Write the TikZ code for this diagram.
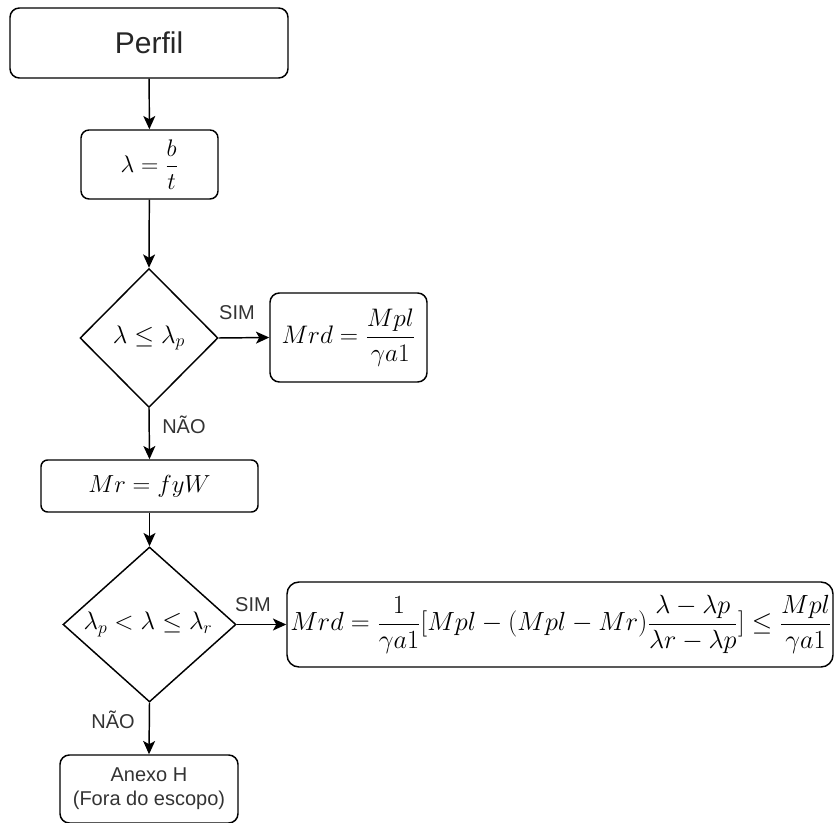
\documentclass[tikz,border=0pt]{standalone}
\usepackage{fix-cm}
\usepackage[no-math]{fontspec}
\setmainfont{Liberation Sans}
\usetikzlibrary{shapes.geometric,arrows.meta}
\newcommand\mfs[1]{\fontsize{#1}{#1}\selectfont}
\begin{document}
\begin{tikzpicture}[x=0.75pt,y=-0.75pt,
  box/.style={draw, line width=1.1pt, rounded corners=7pt, inner sep=0pt, align=center},
  dia/.style={draw, line width=1.1pt, diamond, inner sep=0pt},
  conn/.style={draw, line width=1.1pt, -{Stealth[length=10pt,width=9pt,inset=2.5pt]}},
  lbl/.style={font=\fontsize{15pt}{18pt}\selectfont, text=black!80, inner sep=0pt}]
\useasboundingbox (0,0) rectangle (835,823);

\node[box, minimum width=208.5pt, minimum height=52.5pt, font=\fontsize{22.5pt}{27pt}\selectfont, text=black!85] (perfil) at (149,43) {Perfil};
\node[box, rounded corners=6pt, minimum width=102.75pt, minimum height=51.75pt] (lam) at (149.5,164.5) {\mfs{18pt}$\displaystyle \lambda=\frac{b}{t}$};
\node[dia, minimum width=103.5pt, minimum height=104.25pt] (d1) at (149,338) {};
\node[inner sep=0pt] (t1) at (d1.center) {\mfs{19pt}$\lambda\leq\lambda_p$};
\node[box, minimum width=117.75pt, minimum height=66.75pt] (mrd1) at (348.5,337.5) {\mfs{19pt}$\displaystyle Mrd=\frac{Mpl}{\gamma a1}$};
\node[box, rounded corners=5pt, minimum width=162.75pt, minimum height=39pt] (mr) at (149.5,486) {\mfs{18.5pt}$Mr=fyW$};
\node[dia, minimum width=129.75pt, minimum height=116.25pt] (d2) at (149.5,624.5) {};
\node[inner sep=0pt] (t2) at (148,624.5) {\mfs{19pt}$\lambda_p<\lambda\leq\lambda_r$};
\node[box, rounded corners=9pt, minimum width=409.5pt, minimum height=63.75pt] (mrd2) at (560,624.5) {};
\node[inner sep=0pt] (f2) at (561,624.5) {\mfs{19.7pt}$\displaystyle Mrd=\frac{1}{\gamma a1}[Mpl-(Mpl-Mr)\frac{\lambda-\lambda p}{\lambda r-\lambda p}]\leq\frac{Mpl}{\gamma a1}$};
\node[box, minimum width=133.5pt, minimum height=51pt, font=\fontsize{15pt}{18pt}\selectfont, text=black!80] (anexo) at (149,789) {Anexo H\\(Fora do escopo)};

\draw[conn] (perfil) -- (lam);
\draw[conn] (lam) -- (d1.north);
\draw[conn] (d1.east) -- (mrd1.west);
\draw[conn] (d1.south) -- (mr.north);
\draw[conn] (mr) -- (d2.north);
\draw[conn] (d2.east) -- (mrd2.west);
\draw[conn] (d2.south) -- (anexo.north);

\node[lbl] (sim1) at (237,313) {SIM};
\node[lbl, anchor=west] (nao1) at (162,425) {NÃO};
\node[lbl] (sim2) at (253,605) {SIM};
\node[lbl] (nao2) at (113,720) {NÃO};
\end{tikzpicture}
\end{document}
